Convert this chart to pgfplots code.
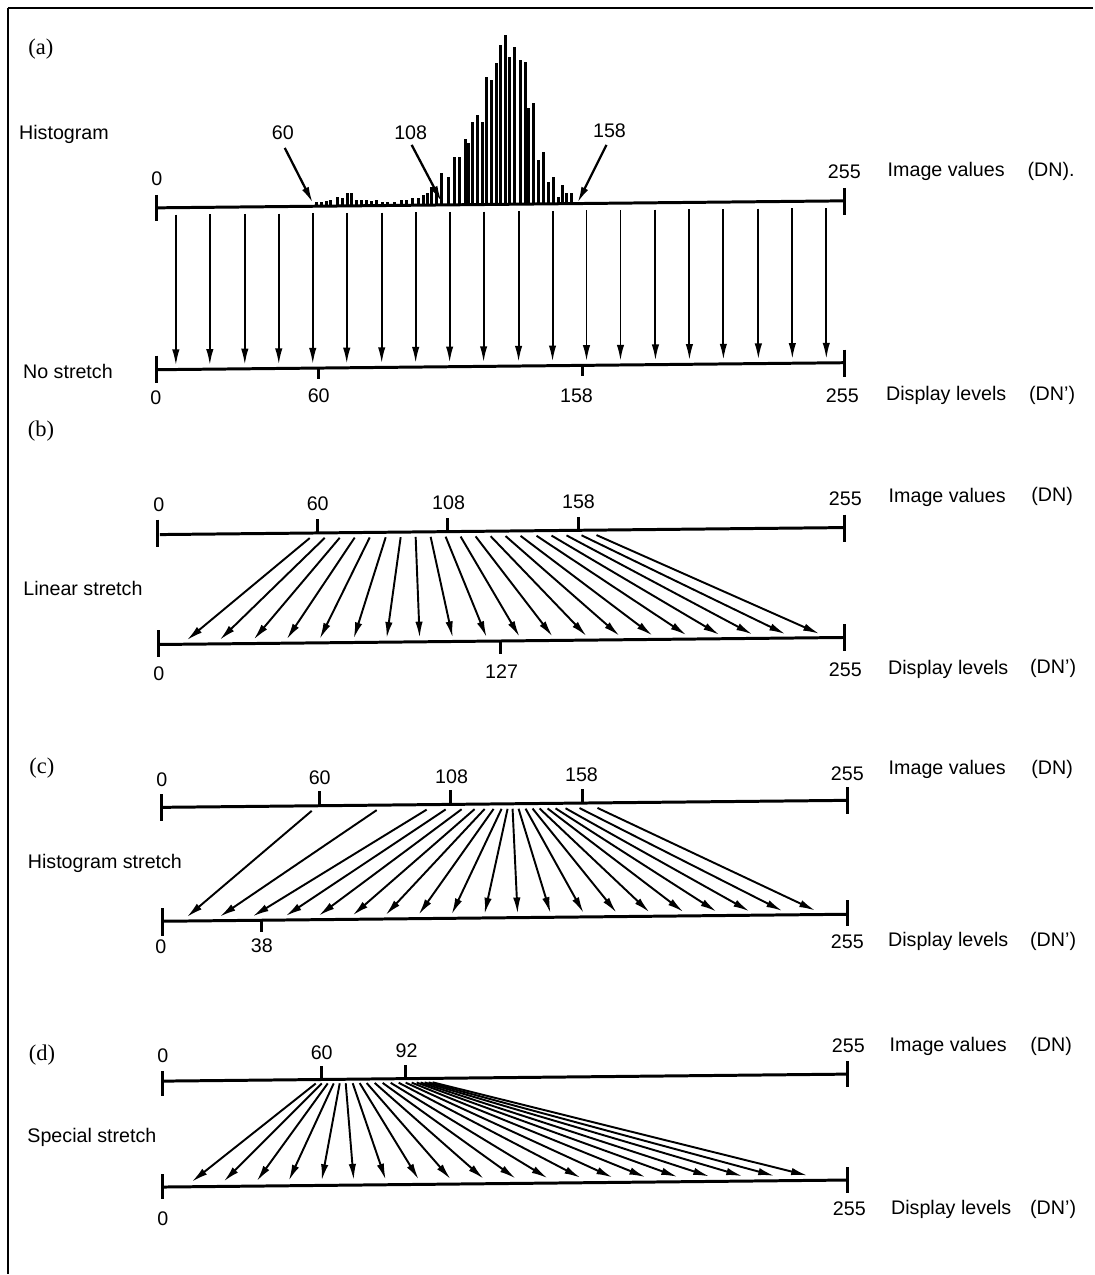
\documentclass[border=0pt]{standalone}
\usepackage{pgfplots}
\pgfplotsset{compat=1.18}
\usetikzlibrary{arrows.meta}
\usepackage{fontspec}
\setmainfont{Liberation Sans}
\newfontfamily\seriffont{Liberation Serif}
\newcommand\lab{\fontsize{5.6pt}{6.5pt}\selectfont}
\tikzset{
  lbl/.style={font=\lab, inner sep=0pt},
  plbl/.style={font=\seriffont\fontsize{6.4pt}{7pt}\selectfont, inner sep=0pt},
}
\pgfplotsset{
  arr/.style={quiver={u=\thisrow{tx}-\thisrow{x},v=\thisrow{ty}-\thisrow{y}}, -{Latex[length=4.6pt,width=2.1pt]}, line width=0.55pt, black},
  seg/.style={quiver={u=\thisrow{tx}-\thisrow{x},v=\thisrow{ty}-\thisrow{y}}, line width=0.85pt, black},
}
\begin{document}
\begin{tikzpicture}
\begin{axis}[width=109.4mm,height=127.5mm,scale only axis,
  xmin=0,xmax=1094,ymin=0,ymax=1275,y dir=reverse,
  axis line style={draw=none},ticks=none,clip=false]

% frame
\addplot[seg, line width=0.6pt] table {
x y tx ty
8 8 1094 8
8 8 8 1275
};

% ---------- axis lines, caps, ticks ----------
\addplot[seg] table {
x y tx ty
157 208 845 201
157 195 157 221
845 188 845 215
157 370 845 363
157 356 157 383
845 350 845 377
319 368.3 319 379
583 365.7 583 376
160 535 845 528
158 520 158 547
845 515 845 542
318 533.4 318 519
448 532 448 518
579 530.7 579 517
160 645 845 638
159 631 159 658
845 625 845 652
501 641.5 501 655
162 808 848 801
162 795 162 822
848 788 848 815
320 806.4 320 792
451 805 451 791
583 803.7 583 790
163 922 848 915
163 909 163 937
848 901 848 927
262 921 262 933
163 1082 848 1075
163 1072 163 1097
848 1062 848 1088
322 1080.4 322 1067
406 1079.5 406 1066
164 1188 848 1181
163 1175 163 1200
848 1168 848 1194
};

% ---------- histogram (a) ----------
\addplot[quiver={u=0,v=\thisrow{top}-\thisrow{y}}, line width=0.75pt, black] table {
x y top
317 205.4 201.7
322 205.3 201.7
327 205.3 201
331 205.2 200
338 205.2 196.7
343 205.1 198.3
348 205.1 193.3
352 205.0 193.3
357 205.0 200
362 204.9 200
367 204.9 200
372 204.8 201
377 204.8 200
383 204.7 201.7
388 204.7 201.7
395 204.6 201.7
402 204.5 200
407 204.4 200
413 204.4 198.3
419 204.3 198.3
424 204.3 195
428 204.2 193.3
432 204.2 186.7
437 204.1 188.3
442 204.1 173
449 204.0 177
455 204.0 157
460 203.9 157
466 203.8 139
469 203.8 143
473 203.8 122
478 203.7 115
483 203.7 122
487 203.6 77
492 203.6 80
497 203.5 63
501 203.5 45
506 203.4 35
510 203.4 57
515 203.3 47
521 203.3 60
526 203.2 62
529 203.2 108
534 203.2 103
539 203.1 160
544 203.1 152
549 203.0 182
554 203.0 177
559 202.9 197
563 202.9 185
567 202.8 193
572 202.8 193
};

% pointer arrows to histogram
\addplot[arr, line width=0.65pt] table {
x y tx ty
285 148 313 203
412 145 442 202
607 145 578 203
};

% ---------- (a) no stretch arrows ----------
\addplot[arr] table {
x y tx ty
176 214.8 176 365.8
210 214.5 210 365.5
245 214.1 245 365.1
279 213.8 279 364.8
313 213.4 313 364.4
347 213.1 347 364.1
382 212.7 382 363.7
416 212.4 416 363.4
450 212.0 450 363.0
484 211.7 484 362.7
519 211.3 519 362.3
553 211.0 553 362.0
587 210.6 587 361.6
621 210.3 621 361.3
656 209.9 656 360.9
690 209.6 690 360.6
724 209.2 724 360.2
759 208.9 759 359.9
793 208.5 793 359.5
827 208.2 827 359.2
};

% ---------- (b) linear stretch ----------
\addplot[arr] table {
x y tx ty
310 538.5 187 640.7
325 538.3 220 640.4
340 538.2 254 640.0
355 538.0 287 639.7
370 537.9 320 639.4
386 537.7 354 639.0
401 537.6 387 638.7
416 537.4 420 638.3
431 537.3 453 638.0
446 537.1 487 637.7
461 537.0 520 637.3
476 536.8 553 637.0
491 536.6 587 636.6
506 536.5 620 636.3
521 536.3 653 636.0
537 536.2 687 635.6
552 536.0 720 635.3
567 535.8 753 634.9
582 535.7 786 634.6
597 535.5 820 634.3
};

% ---------- (c) histogram stretch ----------
\addplot[arr] table {
x y tx ty
312 811.5 187 917.8
377 810.8 220 917.4
427 810.3 253 917.1
446 810.1 286 916.7
462 809.9 319 916.4
475 809.8 353 916.1
485 809.7 386 915.7
494 809.6 419 915.4
502 809.5 452 915.1
508 809.5 485 914.7
513 809.4 518 914.4
519 809.4 551 914.0
526 809.3 584 913.7
533 809.2 617 913.4
540 809.1 650 913.0
548 809.1 684 912.7
556 809.0 717 912.3
566 808.9 750 912.0
580 808.7 783 911.7
598 808.6 816 911.3
};

% ---------- (d) special stretch ----------
\addplot[arr] table {
x y tx ty
316 1084.4 192 1182.7
322 1084.3 224 1182.4
328 1084.3 257 1182.1
334 1084.3 289 1181.7
340 1084.2 322 1181.4
346 1084.1 354 1181.1
353 1084.1 386 1180.7
360 1084.0 419 1180.4
367 1083.9 451 1180.1
375 1083.8 484 1179.7
383 1083.8 516 1179.4
391 1083.7 548 1179.1
399 1083.6 581 1178.7
406 1083.5 613 1178.4
412 1083.5 646 1178.1
417 1083.4 678 1177.8
421 1083.4 710 1177.4
425 1083.3 743 1177.1
429 1083.3 775 1176.8
433 1083.2 808 1176.4
};

% ---------- text ----------
% (a)
\node[plbl] at (axis cs:41,49) {(a)};
\node[lbl] at (axis cs:64,135) {Histogram};
\node[lbl] at (axis cs:283,133) {60};
\node[lbl] at (axis cs:411,133) {108};
\node[lbl] at (axis cs:610,131) {158};
\node[lbl] at (axis cs:157,179) {0};
\node[lbl] at (axis cs:845,172) {255};
\node[lbl] at (axis cs:947,172) {Image values};
\node[lbl] at (axis cs:1052,172) {(DN).};
\node[lbl] at (axis cs:68,372) {No stretch};
\node[lbl] at (axis cs:156,398) {0};
\node[lbl] at (axis cs:319,396) {60};
\node[lbl] at (axis cs:577,396) {158};
\node[lbl] at (axis cs:843,396) {255};
\node[lbl] at (axis cs:947,396) {Display levels};
\node[lbl] at (axis cs:1053,396) {(DN’)};
% (b)
\node[plbl] at (axis cs:41,431) {(b)};
\node[lbl] at (axis cs:159,505) {0};
\node[lbl] at (axis cs:318,504) {60};
\node[lbl] at (axis cs:449,503) {108};
\node[lbl] at (axis cs:579,502) {158};
\node[lbl] at (axis cs:846,499) {255};
\node[lbl] at (axis cs:948,498) {Image values};
\node[lbl] at (axis cs:1053,497) {(DN)};
\node[lbl] at (axis cs:83,589) {Linear stretch};
\node[lbl] at (axis cs:159,674) {0};
\node[lbl] at (axis cs:502,672) {127};
\node[lbl] at (axis cs:846,670) {255};
\node[lbl] at (axis cs:949,670) {Display levels};
\node[lbl] at (axis cs:1054,669) {(DN’)};
% (c)
\node[plbl] at (axis cs:42,769) {(c)};
\node[lbl] at (axis cs:162,780) {0};
\node[lbl] at (axis cs:320,778) {60};
\node[lbl] at (axis cs:452,777) {108};
\node[lbl] at (axis cs:582,775) {158};
\node[lbl] at (axis cs:848,774) {255};
\node[lbl] at (axis cs:948,770) {Image values};
\node[lbl] at (axis cs:1053,770) {(DN)};
\node[lbl] at (axis cs:105,864) {Histogram stretch};
\node[lbl] at (axis cs:161,947) {0};
\node[lbl] at (axis cs:262,946) {38};
\node[lbl] at (axis cs:848,942) {255};
\node[lbl] at (axis cs:949,942) {Display levels};
\node[lbl] at (axis cs:1054,942) {(DN’)};
% (d)
\node[plbl] at (axis cs:42,1056) {(d)};
\node[lbl] at (axis cs:163,1057) {0};
\node[lbl] at (axis cs:322,1054) {60};
\node[lbl] at (axis cs:407,1052) {92};
\node[lbl] at (axis cs:849,1047) {255};
\node[lbl] at (axis cs:949,1047) {Image values};
\node[lbl] at (axis cs:1052,1047) {(DN)};
\node[lbl] at (axis cs:92,1138) {Special stretch};
\node[lbl] at (axis cs:163,1220) {0};
\node[lbl] at (axis cs:850,1210) {255};
\node[lbl] at (axis cs:952,1210) {Display levels};
\node[lbl] at (axis cs:1054,1210) {(DN’)};
\end{axis}
\end{tikzpicture}
\end{document}
